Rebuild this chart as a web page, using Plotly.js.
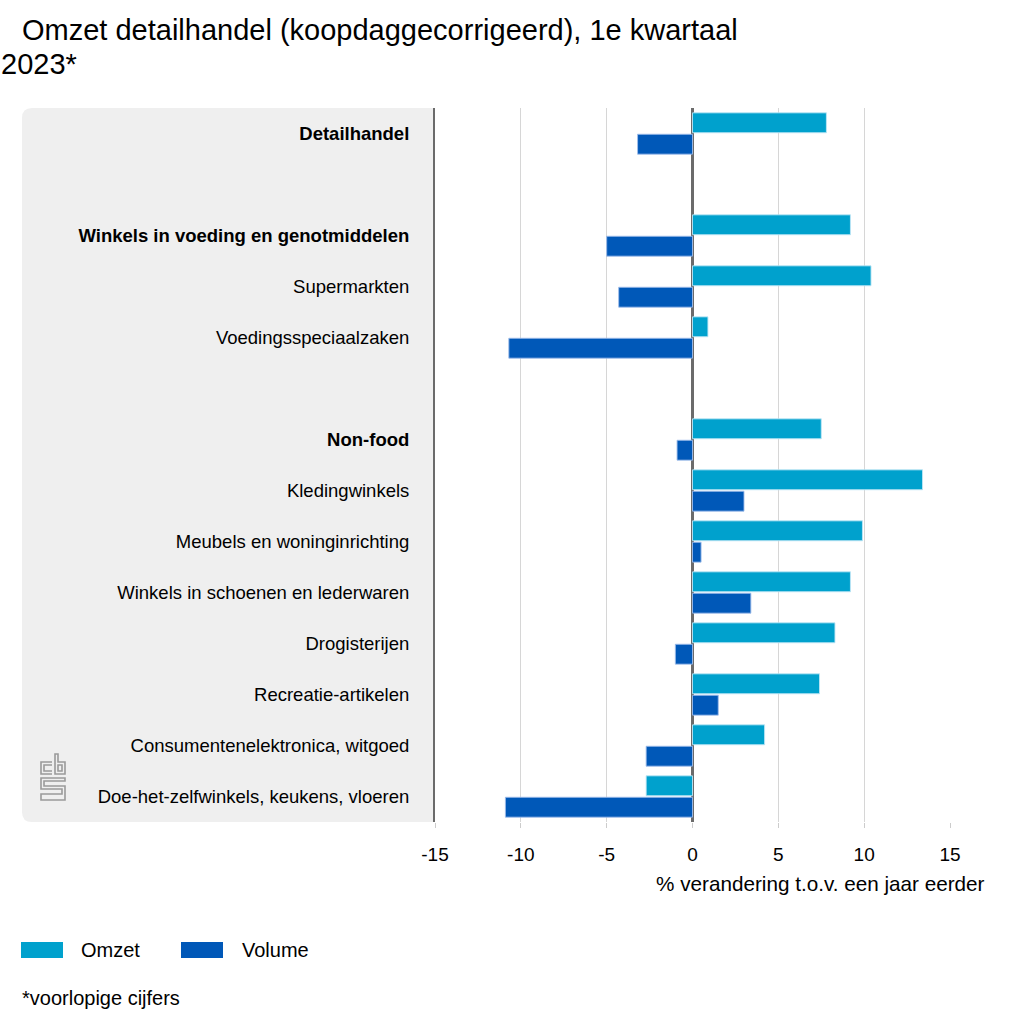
<!DOCTYPE html>
<html>
<head>
<meta charset="utf-8">
<script src="https://cdn.plot.ly/plotly-3.0.1.min.js"></script>
<style>html,body{margin:0;padding:0;background:#fff;}#chart{width:1024px;height:1024px;}</style>
</head>
<body>
<div id="chart"></div>
<script>
// ---- data ----
const categories = [
  '<b>Detailhandel</b>', ' ',
  '<b>Winkels in voeding en genotmiddelen</b>', 'Supermarkten', 'Voedingsspeciaalzaken', '  ',
  '<b>Non-food</b>', 'Kledingwinkels', 'Meubels en woninginrichting', 'Winkels in schoenen en lederwaren',
  'Drogisterijen', 'Recreatie-artikelen', 'Consumentenelektronica, witgoed', 'Doe-het-zelfwinkels, keukens, vloeren'
];
const omzet  = [7.8, null, 9.2, 10.4, 0.9, null, 7.5, 13.4, 9.9, 9.2, 8.3, 7.4, 4.2, -2.7];
const volume = [-3.2, null, -5.0, -4.3, -10.7, null, -0.9, 3.0, 0.5, 3.4, -1.0, 1.5, -2.7, -10.9];
const xTicks = [-15, -10, -5, 0, 5, 10, 15];
const seriesNames = ['Omzet', 'Volume'];
const titleLine1 = 'Omzet detailhandel (koopdaggecorrigeerd), 1e kwartaal';
const titleLine2 = '2023*';
const xTitle = '% verandering t.o.v. een jaar eerder';
const footnote = '*voorlopige cijfers';

// ---- layout helpers ----
const W = 1024, H = 1024;
const PL = 435, PR = 950, PT = 108, PB = 822;
const px = x => (x - PL) / (PR - PL);
const py = y => (PB - y) / (PB - PT);
const FONT = 'Liberation Sans, Arial, Helvetica, sans-serif';
const C_OMZET = '#00a1cd', C_VOLUME = '#0058b8';

function pathPx(cmds) {
  return cmds.map(c => c.length === 1 ? c[0] : c[0] + px(c[1]).toFixed(5) + ',' + py(c[2]).toFixed(5)).join(' ');
}

// gray rounded panel
const r = 10;
const panelPath = 'M' + px(435) + ',' + py(108) +
  ' L' + px(22 + r) + ',' + py(108) +
  ' Q' + px(22) + ',' + py(108) + ' ' + px(22) + ',' + py(108 + r) +
  ' L' + px(22) + ',' + py(822 - r) +
  ' Q' + px(22) + ',' + py(822) + ' ' + px(22 + r) + ',' + py(822) +
  ' L' + px(435) + ',' + py(822) + ' Z';

const shapes = [
  {type: 'path', xref: 'paper', yref: 'paper', path: panelPath, fillcolor: '#efefef', line: {width: 0}, layer: 'below'},
  {type: 'rect', xref: 'paper', yref: 'paper', x0: px(21), x1: px(63), y0: py(942), y1: py(958), fillcolor: C_OMZET, line: {width: 0}},
  {type: 'rect', xref: 'paper', yref: 'paper', x0: px(181), x1: px(223), y0: py(942), y1: py(958), fillcolor: C_VOLUME, line: {width: 0}}
];

// CBS logo (simplified outline)
const ox = 41, oy = 754;
const logoCmds = [
  [['M', ox + 11, oy + 8], ['L', ox + 0, oy + 8], ['L', ox + 0, oy + 20], ['L', ox + 11, oy + 20]],
  [['M', ox + 11, oy + 11], ['L', ox + 3, oy + 11], ['L', ox + 3, oy + 17], ['L', ox + 11, oy + 17]],
  [['M', ox + 14, oy + 0], ['L', ox + 14, oy + 20], ['L', ox + 24, oy + 20], ['L', ox + 24, oy + 8], ['L', ox + 17, oy + 8], ['L', ox + 17, oy + 0], ['Z']],
  [['M', ox + 17, oy + 11], ['L', ox + 21, oy + 11], ['L', ox + 21, oy + 17], ['L', ox + 17, oy + 17], ['Z']],
  [['M', ox + 24, oy + 24], ['L', ox + 0, oy + 24], ['L', ox + 0, oy + 35], ['L', ox + 21, oy + 35], ['L', ox + 21, oy + 40], ['L', ox + 0, oy + 40], ['L', ox + 0, oy + 46], ['L', ox + 24, oy + 46], ['L', ox + 24, oy + 32], ['L', ox + 3, oy + 32], ['L', ox + 3, oy + 27], ['L', ox + 24, oy + 27], ['Z']]
];
logoCmds.forEach(cmds => shapes.push({
  type: 'path', xref: 'paper', yref: 'paper', path: pathPx(cmds),
  line: {color: '#9a9a9a', width: 1.6}, fillcolor: 'rgba(0,0,0,0)'
}));

const annotations = [
  {xref: 'paper', yref: 'paper', x: px(20), y: py(30), xanchor: 'left', yanchor: 'middle', text: titleLine1, showarrow: false, font: {family: FONT, size: 29, color: '#000'}},
  {xref: 'paper', yref: 'paper', x: px(-1), y: py(64), xanchor: 'left', yanchor: 'middle', text: titleLine2, showarrow: false, font: {family: FONT, size: 29, color: '#000'}},
  {xref: 'paper', yref: 'paper', x: px(987), y: py(884), xanchor: 'right', yanchor: 'middle', text: xTitle, showarrow: false, font: {family: FONT, size: 20.7, color: '#000'}},
  {xref: 'paper', yref: 'paper', x: px(79), y: py(950), xanchor: 'left', yanchor: 'middle', text: seriesNames[0], showarrow: false, font: {family: FONT, size: 20, color: '#000'}},
  {xref: 'paper', yref: 'paper', x: px(240), y: py(950), xanchor: 'left', yanchor: 'middle', text: seriesNames[1], showarrow: false, font: {family: FONT, size: 20, color: '#000'}},
  {xref: 'paper', yref: 'paper', x: px(20), y: py(998), xanchor: 'left', yanchor: 'middle', text: footnote, showarrow: false, font: {family: FONT, size: 20, color: '#000'}}
];

const traces = [
  {type: 'bar', orientation: 'h', name: seriesNames[0], y: categories, x: omzet,
   marker: {color: C_OMZET, line: {color: 'rgba(190,230,245,0.9)', width: 1}}, hoverinfo: 'x+y'},
  {type: 'bar', orientation: 'h', name: seriesNames[1], y: categories, x: volume,
   marker: {color: C_VOLUME, line: {color: 'rgba(160,190,235,0.9)', width: 1}}, hoverinfo: 'x+y'}
];

const layout = {
  width: W, height: H,
  margin: {l: PL, r: W - PR, t: PT, b: H - PB, pad: 0},
  paper_bgcolor: '#ffffff', plot_bgcolor: '#ffffff',
  showlegend: false,
  barmode: 'group', bargap: 0.16, bargroupgap: 0.07,
  font: {family: FONT, color: '#000'},
  xaxis: {
    range: [-15, 15], tickvals: xTicks, ticktext: xTicks.map(String),
    showgrid: true, gridcolor: '#d6d6d6', gridwidth: 1,
    zeroline: true, zerolinecolor: '#6b6b6b', zerolinewidth: 3,
    ticks: 'outside', ticklen: 5, tickcolor: '#cccccc', tickwidth: 1,
    ticklabelstandoff: 10,
    tickfont: {family: FONT, size: 19, color: '#000'},
    showline: false, fixedrange: true
  },
  yaxis: {
    type: 'category', categoryorder: 'array', categoryarray: categories,
    autorange: 'reversed',
    showgrid: false, zeroline: false,
    showline: true, linecolor: '#6b6b6b', linewidth: 2,
    ticks: '', ticklabelstandoff: 20,
    tickfont: {family: FONT, size: 18.5, color: '#000'},
    fixedrange: true
  },
  shapes: shapes,
  annotations: annotations
};

Plotly.newPlot('chart', traces, layout, {displayModeBar: false, staticPlot: true});
</script>
</body>
</html>
